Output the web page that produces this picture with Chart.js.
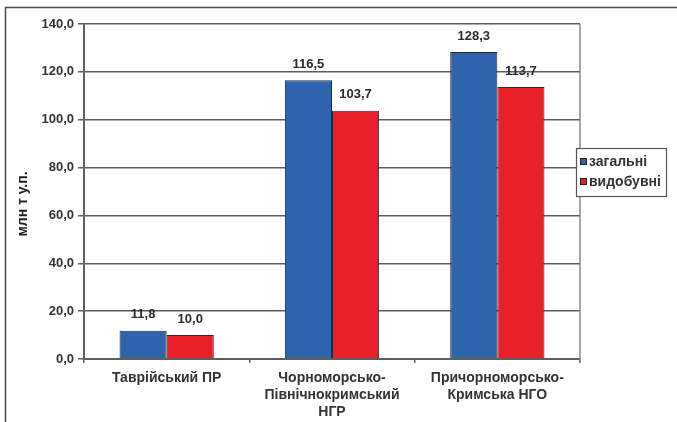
<!DOCTYPE html>
<html><head><meta charset="utf-8">
<script src="https://cdn.jsdelivr.net/npm/chart.js@4.4.1/dist/chart.umd.min.js"></script>
<style>html,body{margin:0;padding:0;background:#fff}#wrap{width:677px;height:422px;position:relative}</style>
</head><body><div id="wrap"><canvas id="c" width="677" height="422"></canvas></div>
<script>
const categories = ["Таврійський ПР", ["Чорноморсько-", "Північнокримський", "НГР"], ["Причорноморсько-", "Кримська НГО"]];
const seriesNames = ["загальні", "видобувні"];
const totalValues = [11.8, 116.5, 128.3];
const extractableValues = [10.0, 103.7, 113.7];
const yMin = 0, yMax = 140, yStep = 20;
const axisTitle = "млн т у.п.";

const FONT = "'Liberation Sans', Arial, sans-serif";
const TXT = '#333333';
const GRID = '#5e5e5e';

const fmt = v => v.toFixed(1).replace('.', ',');

const framePlugin = {
  id: 'frame',
  beforeDraw(chart) {
    const ctx = chart.ctx;
    ctx.save();
    ctx.strokeStyle = '#4a4a4a';
    ctx.lineWidth = 1.5;
    ctx.beginPath();
    ctx.moveTo(5.5, 422);
    ctx.lineTo(5.5, 7.5);
    ctx.lineTo(677, 7.5);
    ctx.stroke();
    ctx.restore();
  },
  afterDraw(chart) {
    const ctx = chart.ctx, a = chart.chartArea;
    ctx.save();
    ctx.strokeStyle = '#8a8a8a';
    ctx.lineWidth = 1.5;
    ctx.beginPath();
    ctx.moveTo(a.right, a.top);
    ctx.lineTo(a.right, a.bottom + 3);
    ctx.stroke();
    ctx.fillStyle = '#222';
    ctx.font = 'bold 14px ' + FONT;
    ctx.textAlign = 'center';
    ctx.textBaseline = 'middle';
    ctx.translate(23, 204);
    ctx.rotate(-Math.PI / 2);
    ctx.fillText(axisTitle, 0, 0);
    ctx.restore();
    ctx.save();
    const bx = 576.5, by = 148.5, bw = 90, bh = 48;
    ctx.fillStyle = '#fff';
    ctx.fillRect(bx, by, bw, bh);
    ctx.strokeStyle = '#555';
    ctx.lineWidth = 1.2;
    ctx.strokeRect(bx, by, bw, bh);
    ctx.font = 'bold 14px ' + FONT;
    ctx.textBaseline = 'middle';
    ctx.textAlign = 'left';
    chart.data.datasets.forEach((ds, i) => {
      const cy = 162 + i * 20;
      ctx.fillStyle = ds.backgroundColor;
      ctx.fillRect(580.5, cy - 3.5, 6, 6);
      ctx.strokeStyle = '#222';
      ctx.lineWidth = 1;
      ctx.strokeRect(580.5, cy - 3.5, 6, 6);
      ctx.fillStyle = TXT;
      ctx.fillText(ds.label, 589, cy + 0.5);
    });
    ctx.restore();
  },
  afterDatasetsDraw(chart) {
    const ctx = chart.ctx;
    ctx.save();
    ctx.font = 'bold 13px ' + FONT;
    ctx.fillStyle = '#2a2a2a';
    ctx.textAlign = 'center';
    ctx.textBaseline = 'middle';
    chart.data.datasets.forEach((ds, i) => {
      const meta = chart.getDatasetMeta(i);
      meta.data.forEach((bar, j) => {
        ctx.fillText(fmt(ds.data[j]), bar.x, bar.y - 16);
      });
    });
    ctx.restore();
  }
};

new Chart(document.getElementById('c'), {
  type: 'bar',
  data: {
    labels: categories,
    datasets: [
      { label: seriesNames[0], data: totalValues, backgroundColor: '#2e63ae', borderColor: '#2a2a2a', borderWidth: 1 },
      { label: seriesNames[1], data: extractableValues, backgroundColor: '#e8202a', borderColor: '#2a2a2a', borderWidth: 1 }
    ]
  },
  options: {
    responsive: false,
    devicePixelRatio: 1,
    animation: false,
    layout: { padding: { left: 0, top: 24, right: 97, bottom: 0 } },
    datasets: { bar: { categoryPercentage: 0.57, barPercentage: 1.0 } },
    plugins: { legend: { display: false }, tooltip: { enabled: false } },
    scales: {
      x: {
        afterFit: s => { s.height = 63; },
        grid: { offset: true, drawOnChartArea: false, tickLength: 4, color: GRID, lineWidth: 1.5 },
        border: { display: true, color: GRID, width: 2 },
        ticks: { color: TXT, font: { family: FONT, size: 14, weight: 'bold', lineHeight: 1.2 }, padding: 7, maxRotation: 0, autoSkip: false }
      },
      y: {
        min: yMin, max: yMax,
        afterFit: s => { s.width = 84; },
        grid: { color: GRID, lineWidth: 1.5, tickLength: 6 },
        border: { display: true, color: GRID, width: 2 },
        ticks: { stepSize: yStep, color: TXT, padding: 4, font: { family: FONT, size: 13, weight: 'bold' }, callback: v => fmt(v) }
      }
    }
  },
  plugins: [framePlugin]
});
</script>
</body></html>
